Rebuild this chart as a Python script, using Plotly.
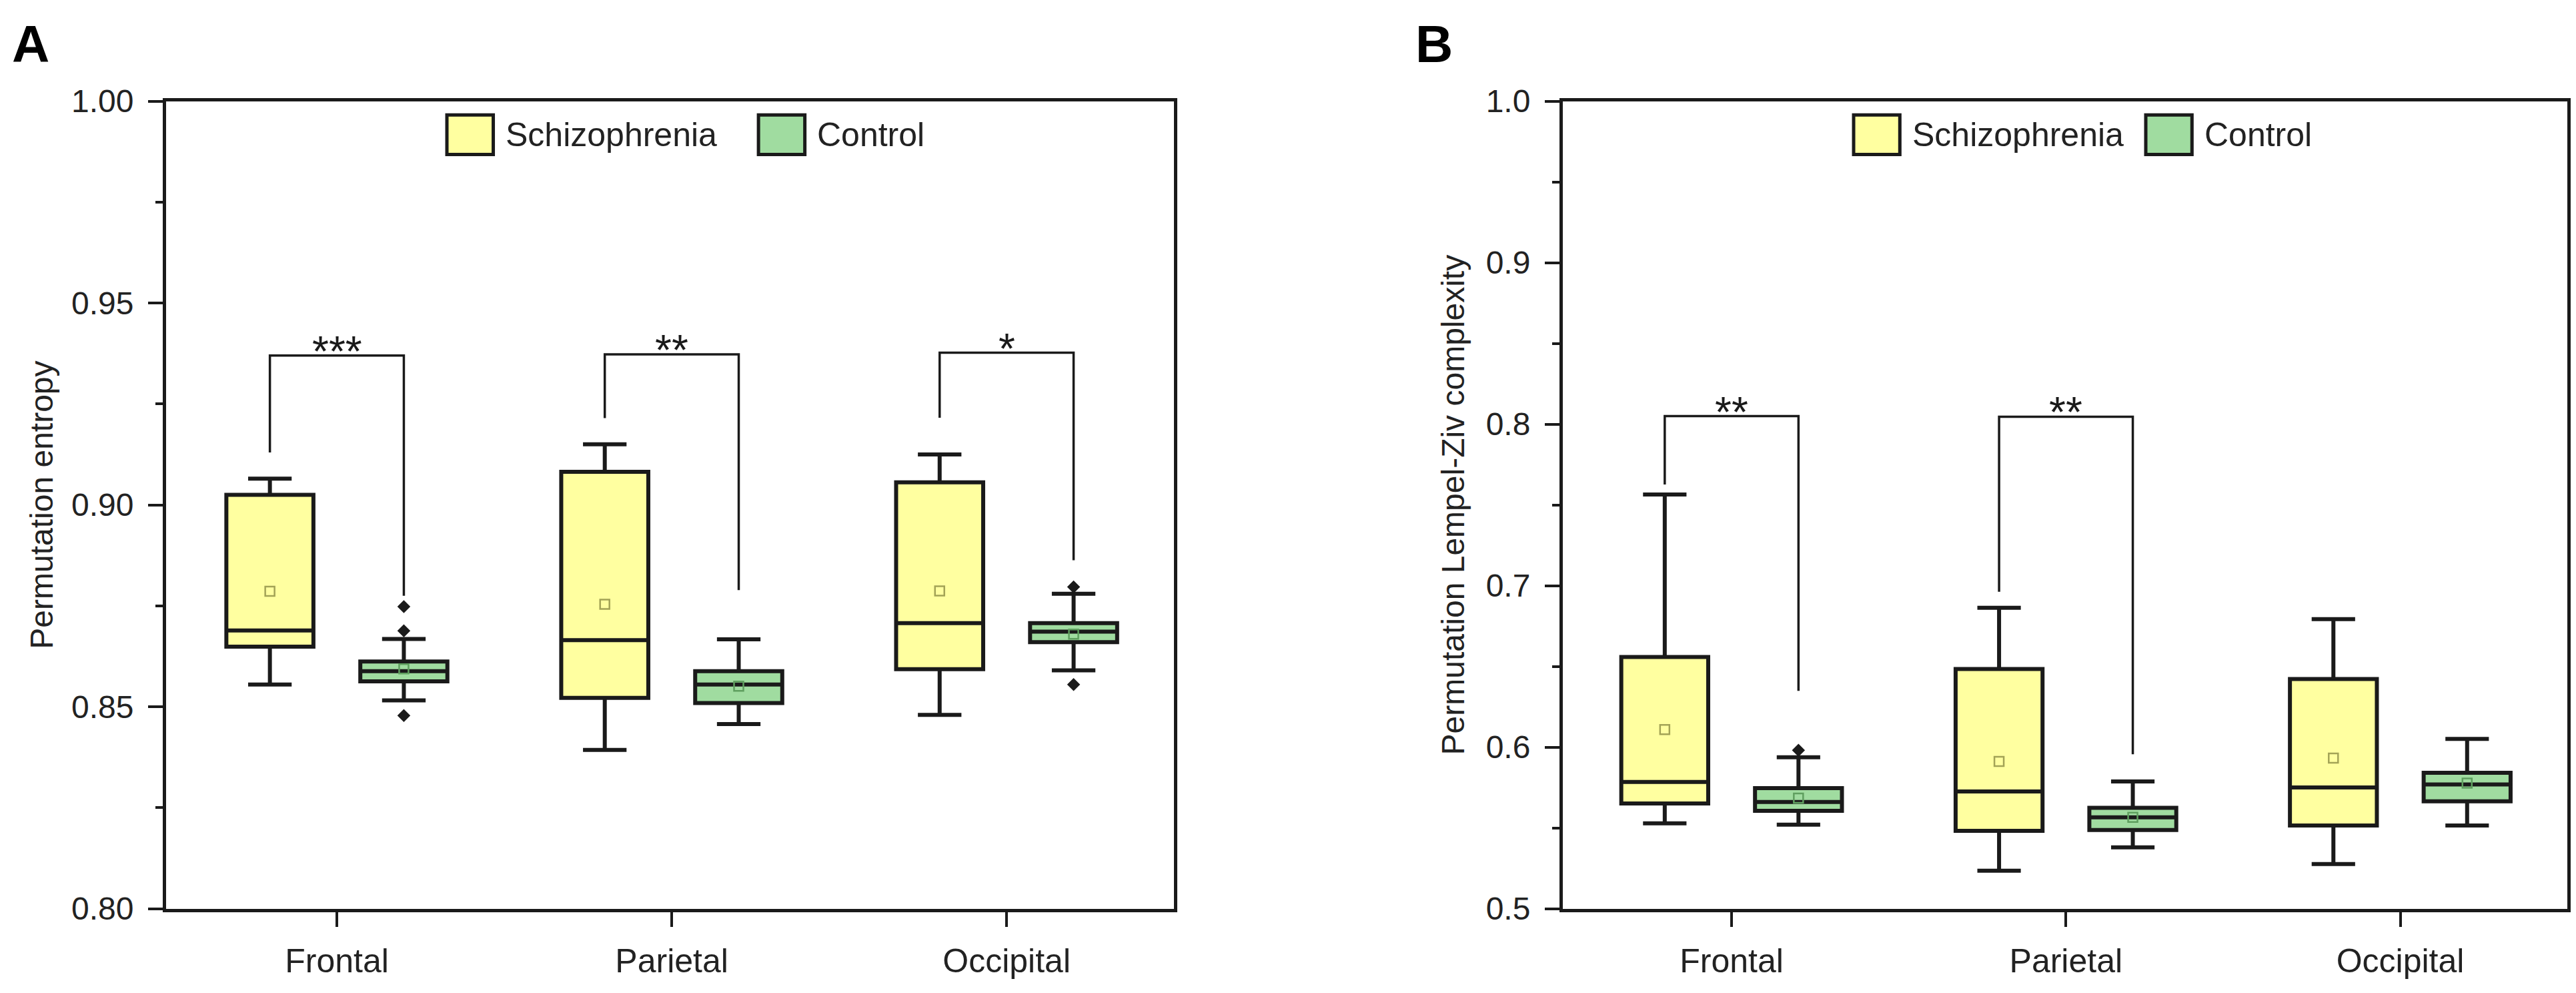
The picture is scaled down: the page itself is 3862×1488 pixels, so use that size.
import plotly.graph_objects as go

regions = ["Frontal", "Parietal", "Occipital"]

# panel A - permutation entropy
pe_scz_q1 = [0.8649, 0.8522, 0.8593]
pe_scz_med = [0.8689, 0.8665, 0.8707]
pe_scz_q3 = [0.9025, 0.9082, 0.9056]
pe_scz_lo = [0.8555, 0.8393, 0.8480]
pe_scz_hi = [0.9065, 0.9150, 0.9125]
pe_scz_mean = [0.8786, 0.8754, 0.8787]

pe_ctl_q1 = [0.8563, 0.8509, 0.8660]
pe_ctl_med = [0.8588, 0.8555, 0.8686]
pe_ctl_q3 = [0.8612, 0.8588, 0.8707]
pe_ctl_lo = [0.8516, 0.8457, 0.8590]
pe_ctl_hi = [0.8668, 0.8667, 0.8780]
pe_ctl_mean = [0.8594, 0.8551, 0.8680]

pe_out_region = ["Frontal", "Frontal", "Frontal", "Occipital", "Occipital"]
pe_out = [0.8748, 0.8688, 0.8478, 0.8797, 0.8555]

pe_sig_region = ["Frontal", "Parietal", "Occipital"]
pe_sig_top = [0.9370, 0.9373, 0.9377]
pe_sig_left = [0.9130, 0.9215, 0.9216]
pe_sig_right = [0.8775, 0.8789, 0.8863]
pe_sig_label = ["***", "**", "*"]

# panel B - permutation Lempel-Ziv complexity
lz_scz_q1 = [0.5651, 0.5482, 0.5515]
lz_scz_med = [0.5784, 0.5725, 0.5750]
lz_scz_q3 = [0.6558, 0.6484, 0.6422]
lz_scz_lo = [0.5528, 0.5235, 0.5276]
lz_scz_hi = [0.7564, 0.6863, 0.6793]
lz_scz_mean = [0.6109, 0.5911, 0.5932]

lz_ctl_q1 = [0.5606, 0.5487, 0.5664]
lz_ctl_med = [0.5660, 0.5565, 0.5769]
lz_ctl_q3 = [0.5746, 0.5624, 0.5841]
lz_ctl_lo = [0.5520, 0.5379, 0.5515]
lz_ctl_hi = [0.5937, 0.5787, 0.6051]
lz_ctl_mean = [0.5684, 0.5565, 0.5777]

lz_out_region = ["Frontal"]
lz_out = [0.5981]

lz_sig_region = ["Frontal", "Parietal"]
lz_sig_top = [0.8050, 0.8046]
lz_sig_left = [0.7626, 0.6962]
lz_sig_right = [0.6348, 0.5956]
lz_sig_label = ["**", "**"]

YELLOW = "#FFFFA0"
GREEN = "#A0DCA0"
INK = "#1a1a1a"
FONT = "Liberation Sans, Arial, sans-serif"
OFF = 0.2
BOXW = 0.26
YDOM = [0.0749, 0.918]


def pos(names, shift):
    return [regions.index(n) + shift for n in names]


def add_panel(fig, xa, ya, scz, ctl, out_reg, out_y, sig):
    for stats, shift, fill, mcol in [(scz, -OFF, YELLOW, "#a3a356"), (ctl, OFF, GREEN, "#5f9f5f")]:
        q1, med, q3, lo, hi, mean = stats
        fig.add_trace(go.Box(
            x=pos(regions, shift), q1=q1, median=med, q3=q3,
            lowerfence=lo, upperfence=hi, width=BOXW, whiskerwidth=0.5,
            fillcolor=fill, line=dict(color=INK, width=6), boxpoints=False,
            xaxis=xa, yaxis=ya, showlegend=False, hoverinfo="skip"))
        fig.add_trace(go.Scatter(
            x=pos(regions, shift), y=mean, mode="markers",
            marker=dict(symbol="square-open", size=14, color=mcol, line=dict(width=2.5)),
            xaxis=xa, yaxis=ya, showlegend=False, hoverinfo="skip"))
    fig.add_trace(go.Scatter(
        x=pos(out_reg, OFF), y=out_y, mode="markers",
        marker=dict(symbol="diamond", size=15, color=INK),
        xaxis=xa, yaxis=ya, showlegend=False, hoverinfo="skip"))

    reg, top, left, right, labels = sig
    bx, by = [], []
    for r, t, l, rr in zip(reg, top, left, right):
        i = regions.index(r)
        bx += [i - OFF, i - OFF, i + OFF, i + OFF, None]
        by += [l, t, t, rr, None]
    fig.add_trace(go.Scatter(
        x=bx, y=by, mode="lines", line=dict(color=INK, width=3.5),
        xaxis=xa, yaxis=ya, showlegend=False, hoverinfo="skip"))
    for r, t, lab in zip(reg, top, labels):
        fig.add_annotation(
            x=regions.index(r), y=t, xref=xa, yref=ya, text=lab, showarrow=False,
            yanchor="middle", yshift=6, font=dict(family=FONT, size=64, color=INK))


def add_legend(fig, xa, ya, x1, x2):
    # legend drawn inside the axes, as in the original figure
    for x0, fill, name in [(x1, YELLOW, "Schizophrenia"), (x2, GREEN, "Control")]:
        fig.add_shape(type="rect", xref=xa + " domain", yref=ya + " domain",
                      x0=x0, x1=x0 + 0.046, y0=0.934, y1=0.983,
                      fillcolor=fill, line=dict(color=INK, width=5))
        fig.add_annotation(x=x0 + 0.057, y=0.9585, xref=xa + " domain", yref=ya + " domain",
                           text=name, showarrow=False, xanchor="left", yanchor="middle",
                           font=dict(family=FONT, size=50, color="#222"))


fig = go.Figure()
add_panel(fig, "x", "y",
          (pe_scz_q1, pe_scz_med, pe_scz_q3, pe_scz_lo, pe_scz_hi, pe_scz_mean),
          (pe_ctl_q1, pe_ctl_med, pe_ctl_q3, pe_ctl_lo, pe_ctl_hi, pe_ctl_mean),
          pe_out_region, pe_out,
          (pe_sig_region, pe_sig_top, pe_sig_left, pe_sig_right, pe_sig_label))
add_panel(fig, "x2", "y2",
          (lz_scz_q1, lz_scz_med, lz_scz_q3, lz_scz_lo, lz_scz_hi, lz_scz_mean),
          (lz_ctl_q1, lz_ctl_med, lz_ctl_q3, lz_ctl_lo, lz_ctl_hi, lz_ctl_mean),
          lz_out_region, lz_out,
          (lz_sig_region, lz_sig_top, lz_sig_left, lz_sig_right, lz_sig_label))
add_legend(fig, "x", "y", 0.2786, 0.5877)
add_legend(fig, "x2", "y2", 0.2895, 0.5803)

xcommon = dict(
    tickvals=list(range(len(regions))), ticktext=regions, ticks="outside",
    ticklen=22, tickwidth=4, tickcolor=INK, showline=True, linewidth=5,
    linecolor=INK, mirror=True, showgrid=False, zeroline=False,
    tickfont=dict(family=FONT, size=50, color="#222"), ticklabelstandoff=8)
ycommon = dict(
    ticks="outside", ticklen=22, tickwidth=4, tickcolor=INK, showline=True,
    linewidth=5, linecolor=INK, mirror=True, showgrid=False, zeroline=False,
    tickfont=dict(family=FONT, size=48, color="#222"), ticklabelstandoff=12,
    title_font=dict(family=FONT, size=48, color="#222"))

fig.update_layout(
    width=3862, height=1488, margin=dict(l=0, r=0, t=0, b=0),
    paper_bgcolor="white", plot_bgcolor="white",
    xaxis=dict(domain=[0.0624, 0.4537], range=[-0.51, 2.5], **xcommon),
    xaxis2=dict(domain=[0.6046, 0.9946], range=[-0.505, 2.5], anchor="y2", **xcommon),
    yaxis=dict(domain=YDOM, range=[0.80, 1.00], dtick=0.05, tickformat=".2f",
               minor=dict(dtick=0.025, ticks="outside", ticklen=11, tickwidth=4, tickcolor=INK),
               title=dict(text="Permutation entropy", standoff=14), **ycommon),
    yaxis2=dict(domain=YDOM, range=[0.5, 1.0], dtick=0.1, tickformat=".1f",
                anchor="x2",
                minor=dict(dtick=0.05, ticks="outside", ticklen=11, tickwidth=4, tickcolor=INK),
                title=dict(text="Permutation Lempel-Ziv complexity", standoff=18), **ycommon),
)

for letter, px in [("A", 8), ("B", 2112)]:
    fig.add_annotation(x=px / 3862, y=1, xref="paper", yref="paper",
                       text="<b>%s</b>" % letter, showarrow=False,
                       xanchor="left", yanchor="top", yshift=14,
                       font=dict(family=FONT, size=78, color="black"))

fig.write_html("out.html")
